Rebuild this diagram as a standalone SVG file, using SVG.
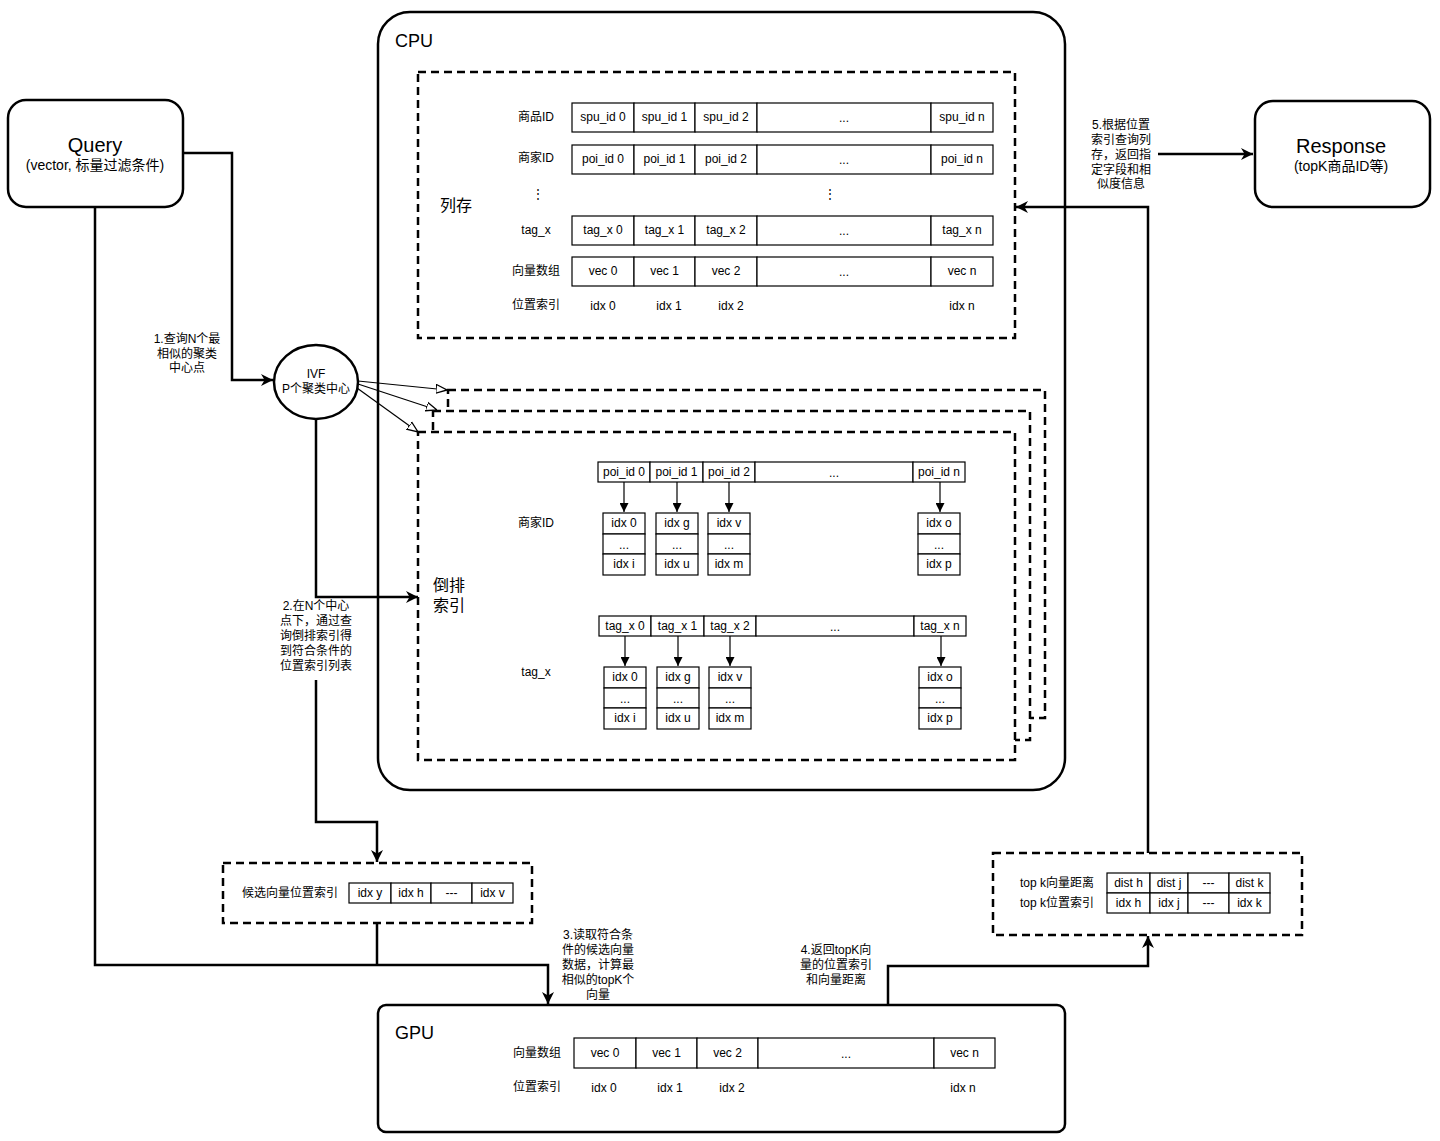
<svg xmlns="http://www.w3.org/2000/svg" width="1440" height="1141" viewBox="0 0 1440 1141">
<defs>
<style>
text{font-family:"Liberation Sans","Noto Sans CJK SC",sans-serif;fill:#000;text-anchor:middle;dominant-baseline:central}
.t12{font-size:12px}
.t11{font-size:11.5px}
.t16{font-size:16px}
.t18{font-size:18px}
.t20{font-size:20px}
.t14{font-size:14px}
.cell{fill:#fff;stroke:#000;stroke-width:1.2}
.box{fill:#fff;stroke:#000;stroke-width:2.5}
.dash{fill:none;stroke:#000;stroke-width:2.5;stroke-dasharray:8 5}
.dashw{fill:#fff;stroke:#000;stroke-width:2.5;stroke-dasharray:8 5}
.conn{fill:none;stroke:#000;stroke-width:2.5}
.thin{fill:none;stroke:#000;stroke-width:1.2}
.left{text-anchor:start}
</style>
<marker id="ab" viewBox="0 0 10 10" refX="10" refY="5" markerWidth="12" markerHeight="12" markerUnits="userSpaceOnUse" orient="auto">
<path d="M0,0 L10,5 L0,10 L3,5 z" fill="#000"/>
</marker>
<marker id="ao" viewBox="0 0 10 10" refX="10" refY="5" markerWidth="11" markerHeight="11" markerUnits="userSpaceOnUse" orient="auto">
<path d="M0,1 L10,5 L0,9 z" fill="#fff" stroke="#000" stroke-width="1.2"/>
</marker>
<marker id="as" viewBox="0 0 10 10" refX="10" refY="5" markerWidth="9" markerHeight="9" markerUnits="userSpaceOnUse" orient="auto">
<path d="M0,0 L10,5 L0,10 z" fill="#000"/>
</marker>
</defs>
<rect x="0" y="0" width="1440" height="1141" fill="#fff"/>

<!-- CPU -->
<g id="cpu">
<rect class="box" x="378" y="12" width="687" height="778" rx="32" ry="32"/>
<text class="t18 left" x="395" y="41">CPU</text>
</g>

<!-- Column store -->
<g id="column-store">
<rect class="dash" x="418" y="72" width="597" height="266"/>
<text class="t16" x="456" y="205">列存</text>
<text class="t12" x="536" y="117">商品ID</text>
<rect class="cell" x="572" y="103" width="62" height="29"/><rect class="cell" x="634" y="103" width="61" height="29"/><rect class="cell" x="695" y="103" width="62" height="29"/><rect class="cell" x="757" y="103" width="174" height="29"/><rect class="cell" x="931" y="103" width="62" height="29"/>
<text class="t12" x="603" y="117">spu_id 0</text><text class="t12" x="664.5" y="117">spu_id 1</text><text class="t12" x="726" y="117">spu_id 2</text><text class="t12" x="844" y="118">...</text><text class="t12" x="962" y="117">spu_id n</text>
<text class="t12" x="536" y="158">商家ID</text>
<rect class="cell" x="572" y="145" width="62" height="29"/><rect class="cell" x="634" y="145" width="61" height="29"/><rect class="cell" x="695" y="145" width="62" height="29"/><rect class="cell" x="757" y="145" width="174" height="29"/><rect class="cell" x="931" y="145" width="62" height="29"/>
<text class="t12" x="603" y="159">poi_id 0</text><text class="t12" x="664.5" y="159">poi_id 1</text><text class="t12" x="726" y="159">poi_id 2</text><text class="t12" x="844" y="160">...</text><text class="t12" x="962" y="159">poi_id n</text>
<text class="t12" x="538" y="194">⋮</text><text class="t12" x="830" y="194">⋮</text>
<text class="t12" x="536" y="230">tag_x</text>
<rect class="cell" x="572" y="216" width="62" height="29"/><rect class="cell" x="634" y="216" width="61" height="29"/><rect class="cell" x="695" y="216" width="62" height="29"/><rect class="cell" x="757" y="216" width="174" height="29"/><rect class="cell" x="931" y="216" width="62" height="29"/>
<text class="t12" x="603" y="230">tag_x 0</text><text class="t12" x="664.5" y="230">tag_x 1</text><text class="t12" x="726" y="230">tag_x 2</text><text class="t12" x="844" y="231">...</text><text class="t12" x="962" y="230">tag_x n</text>
<text class="t12" x="536" y="271">向量数组</text>
<rect class="cell" x="572" y="257" width="62" height="29"/><rect class="cell" x="634" y="257" width="61" height="29"/><rect class="cell" x="695" y="257" width="62" height="29"/><rect class="cell" x="757" y="257" width="174" height="29"/><rect class="cell" x="931" y="257" width="62" height="29"/>
<text class="t12" x="603" y="271">vec 0</text><text class="t12" x="664.5" y="271">vec 1</text><text class="t12" x="726" y="271">vec 2</text><text class="t12" x="844" y="272">...</text><text class="t12" x="962" y="271">vec n</text>
<text class="t12" x="536" y="305">位置索引</text>
<text class="t12" x="603" y="306">idx 0</text><text class="t12" x="669" y="306">idx 1</text><text class="t12" x="731" y="306">idx 2</text><text class="t12" x="962" y="306">idx n</text>
</g>

<!-- Inverted index -->
<g id="inverted-index">
<rect class="dashw" x="448" y="390" width="597" height="328"/>
<rect class="dashw" x="433" y="411" width="597" height="329"/>
<rect class="dashw" x="418" y="432" width="597" height="328"/>
<text class="t16" x="449" y="585">倒排</text>
<text class="t16" x="449" y="605">索引</text>
<text class="t12" x="536" y="523">商家ID</text>
<rect class="cell" x="598" y="462" width="52" height="20"/><rect class="cell" x="650" y="462" width="53" height="20"/><rect class="cell" x="703" y="462" width="52" height="20"/><rect class="cell" x="755" y="462" width="158" height="20"/><rect class="cell" x="913" y="462" width="52" height="20"/>
<text class="t12" x="624" y="472">poi_id 0</text><text class="t12" x="676.5" y="472">poi_id 1</text><text class="t12" x="729" y="472">poi_id 2</text><text class="t12" x="834" y="473">...</text><text class="t12" x="939" y="472">poi_id n</text>
<rect class="cell" x="603" y="513" width="42" height="21"/><rect class="cell" x="603" y="534" width="42" height="20"/><rect class="cell" x="603" y="554" width="42" height="21"/>
<text class="t12" x="624" y="523">idx 0</text><text class="t12" x="624" y="545">...</text><text class="t12" x="624" y="564">idx i</text>
<rect class="cell" x="656" y="513" width="42" height="21"/><rect class="cell" x="656" y="534" width="42" height="20"/><rect class="cell" x="656" y="554" width="42" height="21"/>
<text class="t12" x="677" y="523">idx g</text><text class="t12" x="677" y="545">...</text><text class="t12" x="677" y="564">idx u</text>
<rect class="cell" x="708" y="513" width="42" height="21"/><rect class="cell" x="708" y="534" width="42" height="20"/><rect class="cell" x="708" y="554" width="42" height="21"/>
<text class="t12" x="729" y="523">idx v</text><text class="t12" x="729" y="545">...</text><text class="t12" x="729" y="564">idx m</text>
<rect class="cell" x="918" y="513" width="42" height="21"/><rect class="cell" x="918" y="534" width="42" height="20"/><rect class="cell" x="918" y="554" width="42" height="21"/>
<text class="t12" x="939" y="523">idx o</text><text class="t12" x="939" y="545">...</text><text class="t12" x="939" y="564">idx p</text>
<path class="thin" d="M624,482 V512" marker-end="url(#as)"/>
<path class="thin" d="M677,482 V512" marker-end="url(#as)"/>
<path class="thin" d="M729,482 V512" marker-end="url(#as)"/>
<path class="thin" d="M940,482 V512" marker-end="url(#as)"/>

<text class="t12" x="536" y="672">tag_x</text>
<rect class="cell" x="599" y="616" width="52" height="20"/><rect class="cell" x="651" y="616" width="53" height="20"/><rect class="cell" x="704" y="616" width="52" height="20"/><rect class="cell" x="756" y="616" width="158" height="20"/><rect class="cell" x="914" y="616" width="52" height="20"/>
<text class="t12" x="625" y="626">tag_x 0</text><text class="t12" x="677.5" y="626">tag_x 1</text><text class="t12" x="730" y="626">tag_x 2</text><text class="t12" x="835" y="627">...</text><text class="t12" x="940" y="626">tag_x n</text>
<rect class="cell" x="604" y="667" width="42" height="21"/><rect class="cell" x="604" y="688" width="42" height="20"/><rect class="cell" x="604" y="708" width="42" height="21"/>
<text class="t12" x="625" y="677">idx 0</text><text class="t12" x="625" y="699">...</text><text class="t12" x="625" y="718">idx i</text>
<rect class="cell" x="657" y="667" width="42" height="21"/><rect class="cell" x="657" y="688" width="42" height="20"/><rect class="cell" x="657" y="708" width="42" height="21"/>
<text class="t12" x="678" y="677">idx g</text><text class="t12" x="678" y="699">...</text><text class="t12" x="678" y="718">idx u</text>
<rect class="cell" x="709" y="667" width="42" height="21"/><rect class="cell" x="709" y="688" width="42" height="20"/><rect class="cell" x="709" y="708" width="42" height="21"/>
<text class="t12" x="730" y="677">idx v</text><text class="t12" x="730" y="699">...</text><text class="t12" x="730" y="718">idx m</text>
<rect class="cell" x="919" y="667" width="42" height="21"/><rect class="cell" x="919" y="688" width="42" height="20"/><rect class="cell" x="919" y="708" width="42" height="21"/>
<text class="t12" x="940" y="677">idx o</text><text class="t12" x="940" y="699">...</text><text class="t12" x="940" y="718">idx p</text>
<path class="thin" d="M625,636 V666" marker-end="url(#as)"/>
<path class="thin" d="M678,636 V666" marker-end="url(#as)"/>
<path class="thin" d="M730,636 V666" marker-end="url(#as)"/>
<path class="thin" d="M941,636 V666" marker-end="url(#as)"/>
</g>

<!-- Query -->
<g id="query">
<rect class="box" x="8" y="100" width="175" height="107" rx="18" ry="18"/>
<text class="t20" x="95" y="145">Query</text>
<text class="t14" x="95" y="165">(vector, 标量过滤条件)</text>
</g>

<!-- Response -->
<g id="response">
<rect class="box" x="1255" y="101" width="175" height="106" rx="18" ry="18"/>
<text class="t20" x="1341" y="146">Response</text>
<text class="t14" x="1341" y="166">(topK商品ID等)</text>
</g>

<!-- IVF -->
<g id="ivf">
<ellipse cx="316" cy="382" rx="42" ry="37" fill="#fff" stroke="#000" stroke-width="2.5"/>
<text class="t12" x="316" y="374">IVF</text>
<text class="t12" x="316" y="389">P个聚类中心</text>
</g>

<!-- Candidates -->
<g id="candidates">
<rect class="dash" x="223" y="863" width="309" height="60"/>
<text class="t12" x="290" y="893">候选向量位置索引</text>
<rect class="cell" x="349" y="883" width="42" height="20"/><rect class="cell" x="391" y="883" width="40" height="20"/><rect class="cell" x="431" y="883" width="41" height="20"/><rect class="cell" x="472" y="883" width="41" height="20"/>
<text class="t12" x="370" y="893">idx y</text><text class="t12" x="411" y="893">idx h</text><text class="t12" x="451.5" y="893">---</text><text class="t12" x="492.5" y="893">idx v</text>
</g>

<!-- TopK -->
<g id="topk">
<rect class="dash" x="993" y="853" width="309" height="82"/>
<text class="t12" x="1057" y="883">top k向量距离</text>
<text class="t12" x="1057" y="903">top k位置索引</text>
<rect class="cell" x="1107" y="873" width="43" height="20"/><rect class="cell" x="1150" y="873" width="38" height="20"/><rect class="cell" x="1188" y="873" width="41" height="20"/><rect class="cell" x="1229" y="873" width="41" height="20"/>
<rect class="cell" x="1107" y="893" width="43" height="20"/><rect class="cell" x="1150" y="893" width="38" height="20"/><rect class="cell" x="1188" y="893" width="41" height="20"/><rect class="cell" x="1229" y="893" width="41" height="20"/>
<text class="t12" x="1128.5" y="883">dist h</text><text class="t12" x="1169" y="883">dist j</text><text class="t12" x="1208.5" y="883">---</text><text class="t12" x="1249.5" y="883">dist k</text>
<text class="t12" x="1128.5" y="903">idx h</text><text class="t12" x="1169" y="903">idx j</text><text class="t12" x="1208.5" y="903">---</text><text class="t12" x="1249.5" y="903">idx k</text>
</g>

<!-- GPU -->
<g id="gpu">
<rect class="box" x="378" y="1005" width="687" height="127" rx="8" ry="8"/>
<text class="t18 left" x="395" y="1033">GPU</text>
<text class="t12" x="537" y="1053">向量数组</text>
<rect class="cell" x="574" y="1038" width="62" height="30"/><rect class="cell" x="636" y="1038" width="61" height="30"/><rect class="cell" x="697" y="1038" width="61" height="30"/><rect class="cell" x="758" y="1038" width="176" height="30"/><rect class="cell" x="934" y="1038" width="61" height="30"/>
<text class="t12" x="605" y="1053">vec 0</text><text class="t12" x="666.5" y="1053">vec 1</text><text class="t12" x="727.5" y="1053">vec 2</text><text class="t12" x="846" y="1054">...</text><text class="t12" x="964.5" y="1053">vec n</text>
<text class="t12" x="537" y="1087">位置索引</text>
<text class="t12" x="604" y="1088">idx 0</text><text class="t12" x="670" y="1088">idx 1</text><text class="t12" x="732" y="1088">idx 2</text><text class="t12" x="963" y="1088">idx n</text>
</g>

<!-- Connectors -->
<g id="connectors">
<path class="conn" d="M183,153 H232 V380 H273" marker-end="url(#ab)"/>
<path class="thin" d="M358,381 L447,390" marker-end="url(#ao)"/>
<path class="thin" d="M358,384 L437,410" marker-end="url(#ao)"/>
<path class="thin" d="M357,388 L418,432" marker-end="url(#ao)"/>
<path class="conn" d="M316,419 V597 H418" marker-end="url(#ab)"/>
<path class="conn" d="M316,680 V822 H377 V862" marker-end="url(#ab)"/>
<path class="conn" d="M95,207 V965 H548 V1004" marker-end="url(#ab)"/>
<path class="conn" d="M377,923 V965"/>
<path class="conn" d="M888,1005 V966 H1148 V936" marker-end="url(#ab)"/>
<path class="conn" d="M1148,853 V207 H1016" marker-end="url(#ab)"/>
<path class="conn" d="M1158,154 H1253" marker-end="url(#ab)"/>
</g>

<!-- Connector labels -->
<g id="labels">
<text class="t12" x="187" y="339">1.查询N个最</text>
<text class="t12" x="187" y="354">相似的聚类</text>
<text class="t12" x="187" y="368">中心点</text>
<text class="t12" x="316" y="606">2.在N个中心</text>
<text class="t12" x="316" y="621">点下，通过查</text>
<text class="t12" x="316" y="636">询倒排索引得</text>
<text class="t12" x="316" y="651">到符合条件的</text>
<text class="t12" x="316" y="666">位置索引列表</text>
<text class="t12" x="598" y="935">3.读取符合条</text>
<text class="t12" x="598" y="950">件的候选向量</text>
<text class="t12" x="598" y="965">数据，计算最</text>
<text class="t12" x="598" y="980">相似的topK个</text>
<text class="t12" x="598" y="995">向量</text>
<text class="t12" x="836" y="950">4.返回topK向</text>
<text class="t12" x="836" y="965">量的位置索引</text>
<text class="t12" x="836" y="980">和向量距离</text>
<text class="t12" x="1121" y="125">5.根据位置</text>
<text class="t12" x="1121" y="140">索引查询列</text>
<text class="t12" x="1121" y="155">存，返回指</text>
<text class="t12" x="1121" y="170">定字段和相</text>
<text class="t12" x="1121" y="184">似度信息</text>
</g>
</svg>
